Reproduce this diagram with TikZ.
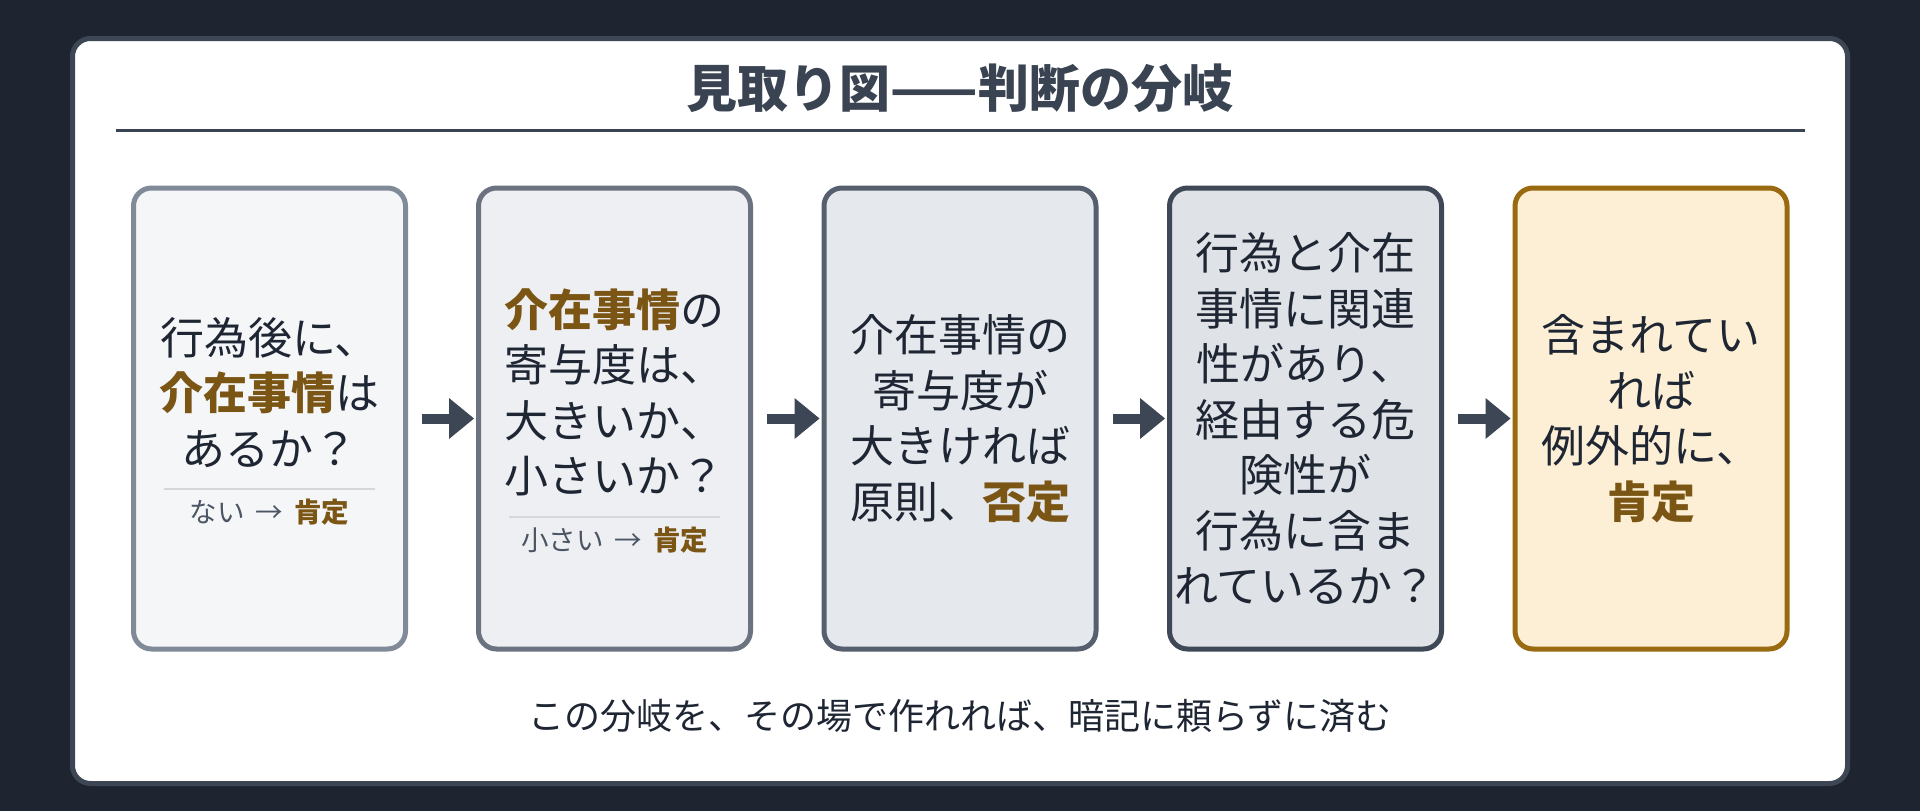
\documentclass[tikz,border=0pt]{standalone}
\usepackage{fontspec}
\setmainfont{Noto Sans CJK JP}
\usetikzlibrary{arrows.meta}
\definecolor{bgc}{HTML}{1F2530}
\definecolor{cardb}{HTML}{3D4654}
\definecolor{titlec}{HTML}{3A4352}
\definecolor{txtc}{HTML}{1F2633}
\definecolor{hlc}{HTML}{7A5514}
\definecolor{subc}{HTML}{4B5563}
\definecolor{sepc}{HTML}{D5D7DB}
\definecolor{arrc}{HTML}{3D4654}
\definecolor{bdA}{HTML}{818A98}
\definecolor{fiA}{HTML}{F5F6F8}
\definecolor{bdB}{HTML}{6B7280}
\definecolor{fiB}{HTML}{EEEFF3}
\definecolor{bdC}{HTML}{555F6D}
\definecolor{fiC}{HTML}{E5E8ED}
\definecolor{bdD}{HTML}{3F4857}
\definecolor{fiD}{HTML}{DFE2E7}
\definecolor{bdE}{HTML}{9A6A10}
\definecolor{fiE}{HTML}{FCEFD5}
\newcommand{\hl}[1]{{\bfseries\color{hlc}#1}}
\newcommand{\arrsp}{\hspace{0.4em}→\hspace{0.4em}}
\tikzset{
  x=1pt, y=-1pt,
  stepbox/.style={draw, line width=5pt, rounded corners=18pt, minimum width=272pt, minimum height=461pt, inner sep=0pt},
  boxtxt/.style={align=center, text=txtc, inner sep=0pt, font=\fontsize{44}{55.5}\selectfont},
  subtxt/.style={align=center, text=subc, inner sep=0pt, font=\fontsize{27.5}{33}\selectfont},
  sepline/.style={draw=sepc, line width=2.5pt},
  arr/.style={draw=arrc, line width=10pt, -{Triangle[length=25pt,width=41pt,line width=0pt]}},
}
\begin{document}
\begin{tikzpicture}
\fill[bgc] (0,0) rectangle (1920,811);
\useasboundingbox (0,0) rectangle (1920,811);
% card
\draw[line width=5pt, draw=cardb, fill=white, rounded corners=18pt] (72.5,38.5) rectangle (1847.5,783.5);
% title
\node[text=titlec, font=\fontsize{51}{60}\selectfont\bfseries, inner sep=0pt] (title) at (960,88) {見取り図——判断の分岐};
\draw[line width=3pt, draw=titlec] (116,130) -- (1805,130);
% boxes
\node[stepbox, draw=bdA, fill=fiA] (b1) at (269.5,418.5) {};
\node[stepbox, draw=bdB, fill=fiB] (b2) at (614.5,418.5) {};
\node[stepbox, draw=bdC, fill=fiC] (b3) at (960,418.5) {};
\node[stepbox, draw=bdD, fill=fiD] (b4) at (1305.5,418.5) {};
\node[stepbox, draw=bdE, fill=fiE] (b5) at (1651,418.5) {};
% box 1
\node[boxtxt] (t1) at (269.5,392.5) {行為後に、\\\hl{介在事情}は\\あるか？};
\draw[sepline] (164,489) -- (375,489);
\node[subtxt] (s1) at (269.5,512) {ない\arrsp\hl{肯定}};
% box 2
\node[boxtxt] (t2) at (614.5,392.5) {\hl{介在事情}の\\寄与度は、\\大きいか、\\小さいか？};
\draw[sepline] (509,517) -- (720,517);
\node[subtxt] (s2) at (614.5,540) {小さい\arrsp\hl{肯定}};
% box 3
\node[boxtxt] (t3) at (960,418.5) {介在事情の\\寄与度が\\大きければ\\原則、\hl{否定}};
% box 4
\node[boxtxt] (t4) at (1305.5,418.5) {行為と介在\\事情に関連\\性があり、\\経由する危\\険性が\\行為に含ま\\れているか？};
% box 5
\node[boxtxt] (t5) at (1651,418.5) {含まれてい\\れば\\例外的に、\\\hl{肯定}};
% arrows
\draw[arr] ([xshift=14pt]b1.east) -- ([xshift=-2pt]b2.west);
\draw[arr] ([xshift=14pt]b2.east) -- ([xshift=-2pt]b3.west);
\draw[arr] ([xshift=14pt]b3.east) -- ([xshift=-2pt]b4.west);
\draw[arr] ([xshift=14pt]b4.east) -- ([xshift=-2pt]b5.west);
% footer
\node[text=txtc, font=\fontsize{36}{44}\selectfont, inner sep=0pt] (foot) at (960,716) {この分岐を、その場で作れれば、暗記に頼らずに済む};
\end{tikzpicture}
\end{document}
